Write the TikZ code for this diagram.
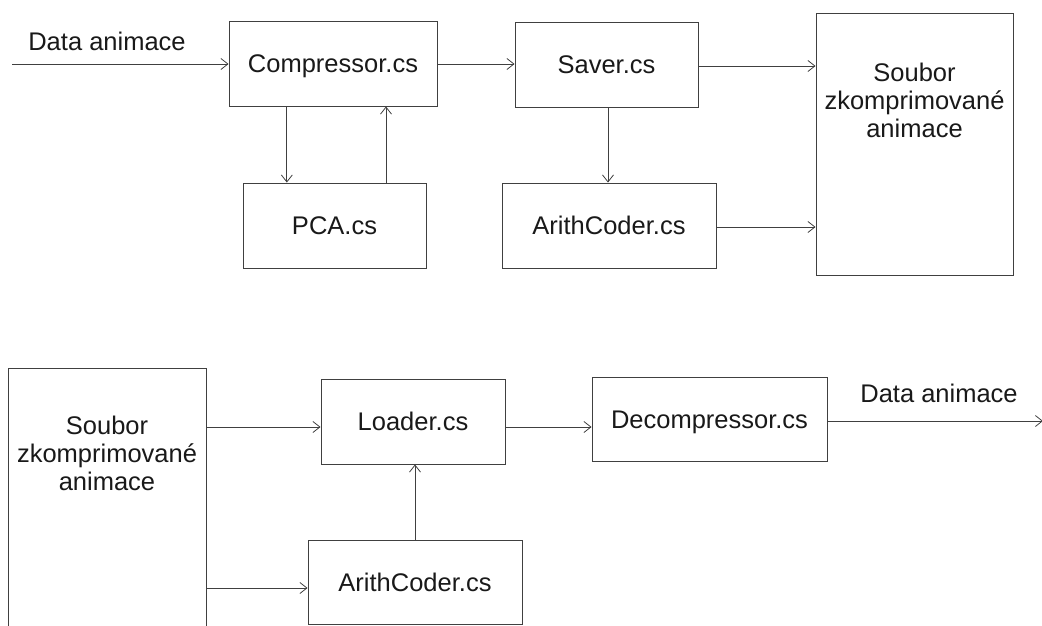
\documentclass[tikz,border=0pt]{standalone}
\usepackage{fontspec}
\setmainfont{Liberation Sans}
\usetikzlibrary{arrows.meta,calc}
\begin{document}
\begin{tikzpicture}[x=1pt,y=-1pt,
  box/.style={draw=black!75,line width=0.9pt,rectangle,inner sep=0pt,text height=18pt,text depth=0pt,font=\fontsize{25.5}{28}\selectfont,text=black!90},
  lbl/.style={inner sep=0pt,font=\fontsize{25.5}{28}\selectfont,text=black!90,align=center},
  conn/.style={draw=black!75,line width=0.9pt,-{Straight Barb[length=7pt,width=11pt,line width=0.8pt]}}]
\useasboundingbox (0,0) rectangle (1042,625);
\clip (0,0) rectangle (1042,625);
% top row
\node[box,minimum width=208,minimum height=85] (comp) at (333,63.5) {Compressor.cs};
\node[box,minimum width=183,minimum height=85] (pca) at (334.5,225.5) {PCA.cs};
\node[box,minimum width=183,minimum height=85] (saver) at (606.5,64.5) {Saver.cs};
\node[box,minimum width=214,minimum height=85] (arithA) at (609,225.5) {ArithCoder.cs};
\node[box,minimum width=197,minimum height=262] (souborA) at (914.5,144) {};
\node[lbl] (souborAtxt) at (914.5,100) {Soubor\\zkomprimované\\animace};
\coordinate (inA) at (12,64);
\node[lbl] (dataA) at (107,41) {Data animace};
\draw[conn] (inA) -- (comp.west |- inA);
\draw[conn] (comp.east |- 0,64) -- (saver.west |- 0,64);
\draw[conn] (saver.east |- 0,66) -- (souborA.west |- 0,66);
\draw[conn] (arithA.east |- 0,227) -- (souborA.west |- 0,227);
\draw[conn] (saver.south -| 608,0) -- (arithA.north -| 608,0);
\draw[conn] ($(comp.south west)!0.279!(comp.south east)$) coordinate (cd) -- (pca.north -| cd);
\draw[conn] (pca.north -| 386,0) coordinate (pu) -- (comp.south -| pu);
% bottom row
\node[box,minimum width=198,minimum height=280] (souborB) at (107,508) {};
\node[lbl] (souborBtxt) at (107,453) {Soubor\\zkomprimované\\animace};
\node[box,minimum width=184,minimum height=85] (loader) at (413,421.5) {Loader.cs};
\node[box,minimum width=235,minimum height=84] (decomp) at (709.5,419) {Decompressor.cs};
\node[box,minimum width=214,minimum height=84] (arithB) at (415,582) {ArithCoder.cs};
\coordinate (outB) at (1043,421);
\node[lbl] (dataB) at (939,393) {Data animace};
\draw[conn] (souborB.east |- 0,427) -- (loader.west |- 0,427);
\draw[conn] (loader.east |- 0,427) -- (decomp.west |- 0,427);
\draw[conn] (decomp.east |- outB) -- (outB);
\draw[conn] (arithB.north) -- (loader.south -| arithB.north);
\draw[conn] (souborB.east |- 0,588) -- (arithB.west |- 0,588);
\end{tikzpicture}
\end{document}
